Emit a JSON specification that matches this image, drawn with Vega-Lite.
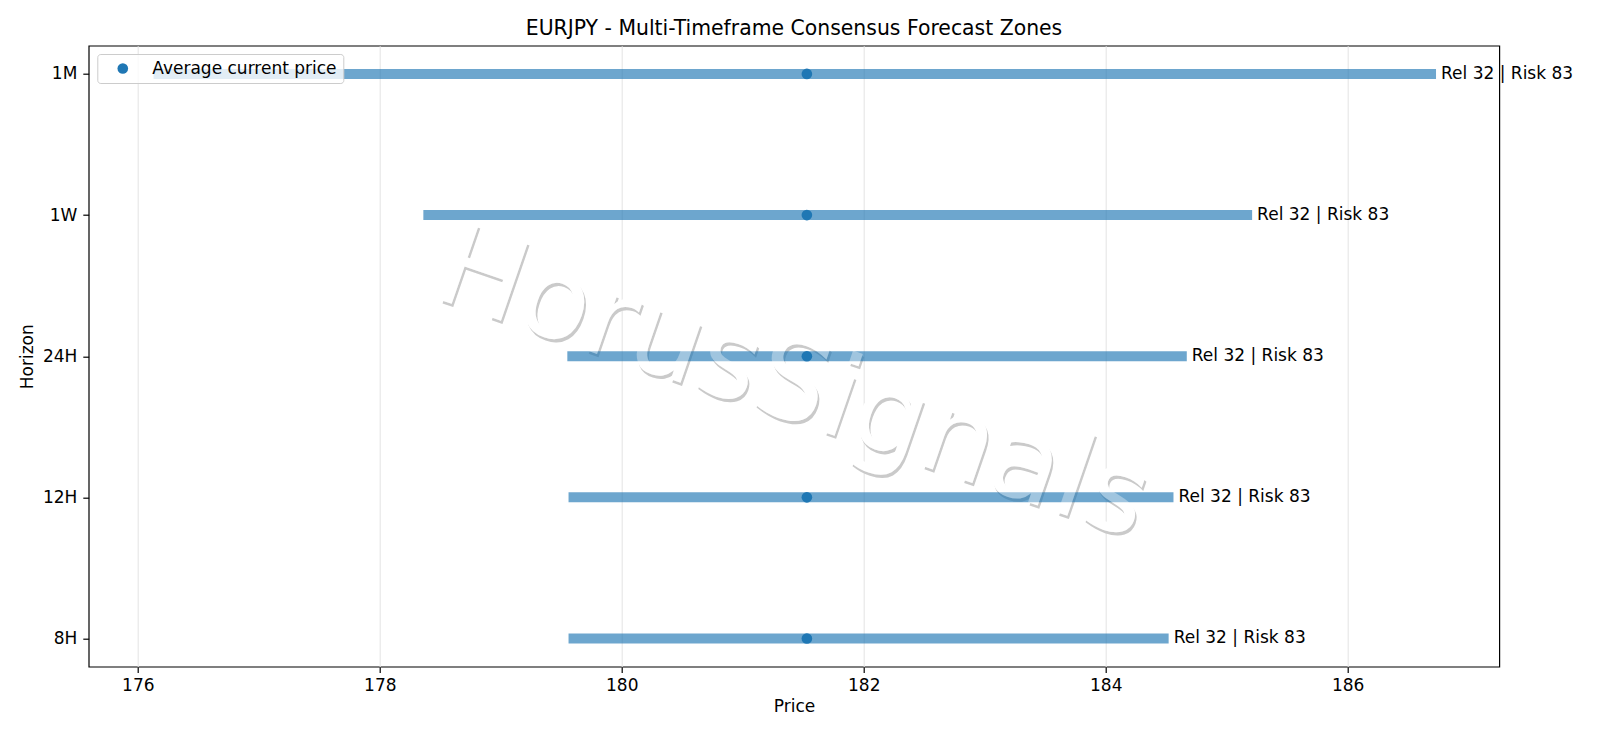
{
  "$schema": "https://vega.github.io/schema/vega-lite/v6.json",
  "autosize": {"type": "none"},
  "padding": {"left": 88.7, "top": 45.7, "right": 100.7, "bottom": 71.3},
  "width": 1410.6,
  "height": 621,
  "background": "white",
  "title": {
    "text": "EURJPY - Multi-Timeframe Consensus Forecast Zones",
    "font": "DejaVu Sans",
    "fontSize": 20.4,
    "fontWeight": "normal",
    "color": "black",
    "anchor": "middle",
    "offset": 6
  },
  "config": {
    "font": "DejaVu Sans",
    "view": {"stroke": "black", "strokeWidth": 1.2},
    "axis": {
      "domain": false,
      "tickColor": "black",
      "tickSize": 5.9,
      "tickWidth": 1.2,
      "labelFont": "DejaVu Sans",
      "labelFontSize": 17,
      "labelColor": "black",
      "labelPadding": 5,
      "titleFont": "DejaVu Sans",
      "titleFontSize": 17,
      "titleFontWeight": "normal",
      "titleColor": "black"
    },
    "legend": {"zindex": 1}
  },
  "data": {
    "values": [
      {"horizon": "1M", "low": 176.13, "high": 186.73, "current": 181.53, "label": "Rel 32 | Risk 83"},
      {"horizon": "1W", "low": 178.36, "high": 185.21, "current": 181.53, "label": "Rel 32 | Risk 83"},
      {"horizon": "24H", "low": 179.55, "high": 184.67, "current": 181.53, "label": "Rel 32 | Risk 83"},
      {"horizon": "12H", "low": 179.56, "high": 184.56, "current": 181.53, "label": "Rel 32 | Risk 83"},
      {"horizon": "8H", "low": 179.56, "high": 184.52, "current": 181.53, "label": "Rel 32 | Risk 83"}
    ]
  },
  "encoding": {
    "y": {
      "field": "horizon",
      "type": "ordinal",
      "sort": ["1M", "1W", "24H", "12H", "8H"],
      "scale": {"type": "point", "padding": 0.2},
      "axis": {"title": "Horizon", "titlePadding": 6, "grid": false, "labelAngle": 0, "labelPadding": 6}
    }
  },
  "layer": [
    {
      "data": {"values": [{}]},
      "mark": {"type": "text", "fontSize": 114, "font": "DejaVu Sans", "angle": 19, "align": "center", "baseline": "middle", "dx": 2.5, "dy": 33.5, "fill": "#cacaca"},
      "encoding": {
        "x": {"datum": 181.5, "type": "quantitative"},
        "y": {"datum": "24H"},
        "text": {"value": "HorusSignals"}
      }
    },
    {
      "data": {"values": [{}]},
      "mark": {"type": "text", "fontSize": 114, "font": "DejaVu Sans", "angle": 19, "align": "center", "baseline": "middle", "dx": 0, "dy": 31, "fill": "white"},
      "encoding": {
        "x": {"datum": 181.5, "type": "quantitative"},
        "y": {"datum": "24H"},
        "text": {"value": "HorusSignals"}
      }
    },
    {
      "mark": {"type": "rule", "strokeWidth": 10, "color": "#1f77b4", "opacity": 0.65, "strokeCap": "butt"},
      "encoding": {
        "x": {
          "field": "low",
          "type": "quantitative",
          "scale": {"domain": [175.594, 187.253], "nice": false, "zero": false},
          "axis": {"title": "Price", "values": [176, 178, 180, 182, 184, 186], "format": "d", "grid": true, "gridColor": "#e6e6e6", "gridWidth": 1.1, "titlePadding": 5}
        },
        "x2": {"field": "high"}
      }
    },
    {
      "mark": {"type": "point", "filled": true, "size": 113, "opacity": 1, "strokeWidth": 0},
      "encoding": {
        "x": {"field": "current", "type": "quantitative"},
        "color": {
          "datum": "Average current price",
          "type": "nominal",
          "scale": {"range": ["#1f77b4"]},
          "legend": {
            "title": null,
            "orient": "none",
            "legendX": 8.6,
            "legendY": 8.3,
            "fillColor": "rgba(255,255,255,0.8)",
            "strokeColor": "#cccccc",
            "cornerRadius": 3,
            "padding": 6,
            "symbolOffset": 11,
            "symbolSize": 113,
            "symbolType": "circle",
            "symbolStrokeWidth": 0,
            "symbolOpacity": 1,
            "labelOffset": 21,
            "labelLimit": 0,
            "labelFontSize": 17,
            "labelFont": "DejaVu Sans",
            "labelColor": "black"
          }
        }
      }
    },
    {
      "mark": {"type": "text", "align": "left", "baseline": "middle", "dx": 5, "fontSize": 17, "font": "DejaVu Sans", "color": "black"},
      "encoding": {
        "x": {"field": "high", "type": "quantitative"},
        "text": {"field": "label"}
      }
    },
    {
      "data": {"values": [{}]},
      "mark": {"type": "text", "fontSize": 114, "font": "DejaVu Sans", "angle": 19, "align": "center", "baseline": "middle", "dx": 0, "dy": 31, "fill": "white", "opacity": 0.35},
      "encoding": {
        "x": {"datum": 181.5, "type": "quantitative"},
        "y": {"datum": "24H"},
        "text": {"value": "HorusSignals"}
      }
    }
  ]
}
